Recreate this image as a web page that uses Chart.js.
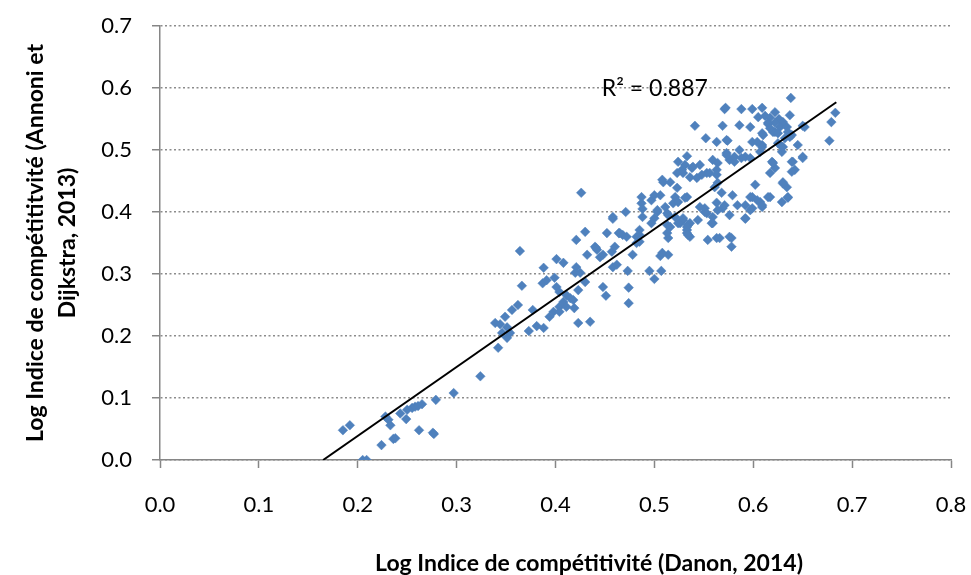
<!DOCTYPE html>
<html>
<head>
<meta charset="utf-8">
<script src="https://cdn.jsdelivr.net/npm/chart.js@4/dist/chart.umd.min.js"></script>
<style>
html,body{margin:0;padding:0;background:#fff;}
canvas{display:block;}
</style>
</head>
<body>
<canvas id="c" width="971" height="575"></canvas>
<script>
// Log Indice de compétitivité (Danon, 2014)
const danonX = [
0.185,0.192,0.205,0.209,0.224,0.228,0.231,0.233,0.236,0.238,0.243,0.249,0.250,0.255,0.258,0.261,0.265,0.262,0.276,0.277,0.279,0.297,0.324,
0.339,0.344,0.342,0.346,0.349,0.351,0.351,0.354,0.356,0.362,0.364,0.366,0.373,0.377,0.381,0.388,0.387,0.388,0.391,0.394,0.398,0.399,0.401,0.401,0.404,0.404,0.404,0.408,0.408,0.411,0.411,0.415,0.418,0.419,0.420,0.421,0.421,0.423,0.423,0.425,0.426,0.430,0.430,0.432,0.435,0.440,0.441,0.442,0.445,0.448,0.448,0.451,0.452,0.457,0.458,0.458,0.460,0.462,0.464,0.468,0.471,0.472,0.474,0.474,0.473,0.478,
0.495,0.507,0.500,
0.487,0.487,0.488,0.488,0.485,0.482,0.485,0.497,0.506,0.503,0.500,0.511,0.514,0.513,0.514,0.506,0.514,0.508,0.516,0.523,0.521,0.519,0.524,0.533,0.529,0.526,0.536,0.533,0.536,0.544,0.551,0.553,0.559,0.554,0.563,0.564,
0.523,0.529,0.536,0.543,0.553,0.563,
0.541,0.552,0.524,0.533,0.528,0.531,0.538,0.548,0.509,0.500,0.458,0.503,0.513,0.497,0.521,0.516,0.524,0.529,0.534,0.533,0.465,0.485,0.482,0.508,0.513,0.534,
0.638,0.571,0.588,0.599,0.609,0.622,0.605,0.612,0.617,0.637,0.626,0.630,
0.569,0.586,0.597,0.615,0.622,0.627,0.634,0.652,0.683,0.679,0.677,
0.563,0.574,0.599,0.609,0.622,0.635,0.639,0.645,0.650,0.640,0.642,0.630,0.629,
0.539,0.546,0.559,0.564,0.556,0.563,0.573,0.576,0.581,
0.586,0.592,0.597,0.607,0.609,0.604,
0.619,0.622,0.617,0.630,0.634,0.615,0.635,
0.597,0.607,0.609,0.599,0.592,
0.579,0.584,0.576,0.569,0.563,0.561,0.568,0.576,0.533,
0.531,0.546,0.551,0.559,0.558,
0.639,0.630,0.617,0.635,0.629,0.599,0.604,0.609,0.592,0.597,0.592,0.566,0.578,0.578,0.602,0.571,0.564,
0.572,0.610,0.573,0.609,0.625,0.629,0.650,0.573,0.639,0.581,0.588,0.620,0.620,0.625,0.632,0.637,0.615,0.617,0.650
];
// Log Indice de compétititvité (Annoni et Dijkstra, 2013)
const annoniY = [
0.048,0.056,0.000,0.000,0.024,0.070,0.065,0.056,0.034,0.035,0.075,0.066,0.081,0.084,0.086,0.087,0.090,0.048,0.044,0.042,0.097,0.108,0.135,
0.221,0.219,0.181,0.205,0.231,0.214,0.197,0.205,0.242,0.250,0.337,0.281,0.208,0.242,0.216,0.213,0.285,0.310,0.290,0.231,0.239,0.294,0.324,0.279,0.271,0.247,0.239,0.318,0.255,0.266,0.247,0.261,0.258,0.245,0.302,0.311,0.355,0.221,0.274,0.302,0.431,0.287,0.368,0.331,0.223,0.344,0.342,0.339,0.327,0.331,0.279,0.265,0.366,0.336,0.389,0.311,0.344,0.315,0.366,0.363,0.400,0.360,0.278,0.253,0.305,0.331,
0.305,0.305,0.292,
0.424,0.414,0.405,0.392,0.371,0.360,0.352,0.419,0.427,0.403,0.390,0.408,0.395,0.379,0.358,0.329,0.331,0.452,0.448,0.439,0.424,0.414,0.416,0.424,0.387,0.382,0.382,0.371,0.360,0.387,0.406,0.398,0.382,0.355,0.358,0.447,
0.463,0.463,0.456,0.455,0.463,0.460,
0.539,0.519,0.481,0.490,0.468,0.476,0.471,0.460,0.448,0.427,0.392,0.400,0.398,0.382,0.392,0.376,0.382,0.390,0.379,0.366,0.366,0.363,0.350,0.334,0.366,0.363,
0.584,0.566,0.566,0.566,0.568,0.561,0.553,0.555,0.552,0.556,0.550,0.545,
0.539,0.540,0.537,0.544,0.544,0.537,0.537,0.537,0.560,0.545,0.515,
0.513,0.515,0.513,0.527,0.529,0.529,0.524,0.508,0.487,0.481,0.468,0.505,0.497,
0.473,0.476,0.484,0.479,0.463,0.468,0.495,0.484,0.481,
0.500,0.489,0.487,0.497,0.508,0.513,
0.481,0.471,0.463,0.448,0.440,0.424,0.423,
0.424,0.416,0.408,0.406,0.390,
0.427,0.411,0.395,0.406,0.415,0.440,0.431,0.360,0.376,
0.423,0.408,0.400,0.392,0.382,
0.465,0.446,0.424,0.424,0.416,0.424,0.419,0.411,0.411,0.403,0.389,0.358,0.358,0.344,0.444,0.411,0.403,
0.568,0.524,0.516,0.505,0.511,0.505,0.489,0.492,0.481,0.489,0.487,0.479,0.529,0.527,0.519,0.521,0.542,0.535,0.539
];
// Linear trend line endpoints
const trendX = [0.165, 0.684];
const trendY = [0.0, 0.577];
const xTicksMax = 0.8, yTicksMax = 0.7, tickStep = 0.1;
const r2Label = "R² = 0.887";
const xTitle = "Log Indice de compétitivité (Danon, 2014)";
const yTitle = ["Log Indice de compétititvité (Annoni et", "Dijkstra, 2013)"];

const points = danonX.map((x,i)=>({x:x, y:annoniY[i]}));
const trend = trendX.map((x,i)=>({x:x, y:trendY[i]}));

const FONT = "Lato, 'Open Sans', 'Liberation Sans', sans-serif";

const textPlugin = {
  id:'texts',
  afterDatasetsDraw(chart){
    const {ctx, scales:{x,y}} = chart;
    ctx.save();
    ctx.fillStyle = "#000";
    ctx.textAlign = "center";
    ctx.textBaseline = "middle";
    ctx.font = "23px " + FONT;
    ctx.fillText(r2Label, x.getPixelForValue(0.5005), y.getPixelForValue(0.599));
    ctx.font = "bold 23px " + FONT;
    ctx.fillText(xTitle, 589, 564);
    ctx.restore();
  }
};

new Chart(document.getElementById('c'), {
  type:'scatter',
  data:{
    datasets:[
      {type:'line', data:trend, borderColor:'#000', borderWidth:2, pointRadius:0, fill:false, showLine:true},
      {data:points, pointStyle:'rectRot', radius:4.8, backgroundColor:'#4F81BD', borderColor:'#4F81BD', borderWidth:0.5}
    ]
  },
  options:{
    responsive:false, animation:false,
    layout:{padding:{left:0, right:20, top:26, bottom:0}},
    plugins:{legend:{display:false}, tooltip:{enabled:false}},
    scales:{
      x:{
        type:'linear', min:0, max:xTicksMax,
        afterFit:s=>{ s.height = 115; s.paddingLeft = 0; s.paddingRight = 0; },
        ticks:{stepSize:tickStep, color:'#000', font:{family:FONT, size:22}, padding:24, callback:v=>Number(v).toFixed(1)},
        grid:{drawOnChartArea:false, drawTicks:true, tickLength:8, tickColor:'#868686', tickWidth:1.5, tickBorderDash:[]},
        border:{display:true, color:'#868686', width:1.5},
        title:{display:false}
      },
      y:{
        type:'linear', min:0, max:yTicksMax,
        afterFit:s=>{ s.width = 160; s.paddingTop = 0; s.paddingBottom = 0; },
        ticks:{stepSize:tickStep, color:'#000', font:{family:FONT, size:22}, padding:20, callback:v=>Number(v).toFixed(1)},
        grid:{color:'#8c8c8c', lineWidth:1.5, drawTicks:true, tickLength:8, tickColor:'#868686', tickWidth:1.5, tickBorderDash:[]},
        border:{display:true, color:'#868686', width:1.5, dash:[2,2.5]},
        title:{display:true, text:yTitle, color:'#000', font:{family:FONT, size:23, weight:'bold', lineHeight:1.4}, padding:{top:19, bottom:0}}
      }
    }
  },
  plugins:[textPlugin]
});
</script>
</body>
</html>
